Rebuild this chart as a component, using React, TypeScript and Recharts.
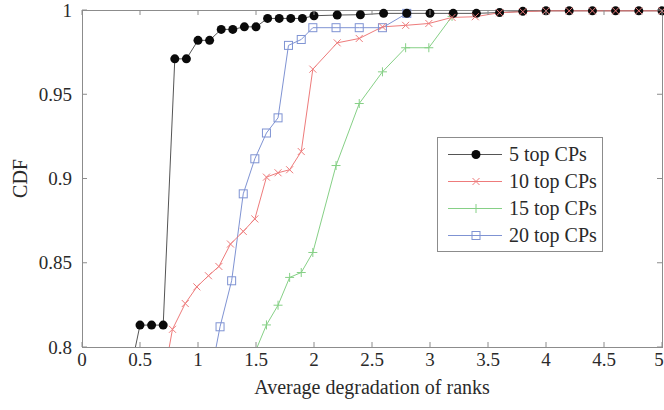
import { LineChart, Line, XAxis, YAxis, ReferenceArea } from "recharts";

const X_TICKS = [0, 0.5, 1, 1.5, 2, 2.5, 3, 3.5, 4, 4.5, 5];
const Y_TICKS = [0.8, 0.85, 0.9, 0.95, 1];

// 5 top CPs
const top5X = [0.5, 0.6, 0.7, 0.8, 0.9, 1.0, 1.1, 1.2, 1.3, 1.4, 1.5, 1.6, 1.7, 1.8, 1.9, 2.0, 2.2, 2.4, 2.6, 2.8, 3.0, 3.2, 3.4, 3.6, 3.8, 4.0, 4.2, 4.4, 4.6, 4.8, 5.0];
const top5Y = [0.813, 0.813, 0.813, 0.971, 0.971, 0.982, 0.982, 0.9885, 0.9885, 0.99, 0.99, 0.995, 0.995, 0.995, 0.995, 0.9966, 0.997, 0.9972, 0.998, 0.998, 0.998, 0.998, 0.998, 0.9985, 0.9992, 0.9995, 0.9995, 0.9995, 0.9995, 0.9995, 0.9995];

// 10 top CPs
const top10X = [0.78, 0.89, 0.99, 1.09, 1.18, 1.28, 1.39, 1.49, 1.59, 1.69, 1.79, 1.89, 1.99, 2.2, 2.39, 2.59, 2.79, 2.99, 3.19, 3.39, 3.6, 3.8, 4.0, 4.2, 4.4, 4.6, 4.8, 5.0];
const top10Y = [0.8105, 0.8258, 0.8357, 0.8423, 0.8478, 0.8611, 0.8686, 0.876, 0.9008, 0.9034, 0.9052, 0.916, 0.9649, 0.9805, 0.9831, 0.99, 0.9909, 0.992, 0.9956, 0.996, 0.9984, 0.999, 0.9995, 0.9995, 0.9995, 0.9995, 0.9995, 0.9995];

// 15 top CPs
const top15X = [1.59, 1.69, 1.79, 1.89, 1.99, 2.19, 2.39, 2.59, 2.79, 2.99, 3.19];
const top15Y = [0.8131, 0.8248, 0.8413, 0.8442, 0.8561, 0.9077, 0.9445, 0.9633, 0.9776, 0.9776, 0.9962];

// 20 top CPs
const top20X = [1.19, 1.29, 1.39, 1.49, 1.59, 1.69, 1.78, 1.89, 1.99, 2.19, 2.39, 2.59, 2.8];
const top20Y = [0.812, 0.8393, 0.8909, 0.9117, 0.927, 0.936, 0.979, 0.9825, 0.9895, 0.9895, 0.9895, 0.9895, 0.998];

// where each curve enters from below the 0.8 axis (clipped)
const tailX = [0.4, 0.7, 1.45, 1.1];
const tailY = [0.78, 0.78, 0.79, 0.78];

const FONT = '"Liberation Serif", "Times New Roman", serif';
const FRAME = "#8c8c8c";
const TEXT = "#2a2a2a";

const W = 664;
const H = 410;
const MARGIN = { top: 10, right: 2, left: 0, bottom: 0 };
const Y_AXIS_W = 82;
const X_AXIS_H = 63;
const TICK_LEN = 5;
const X_TICK_MARGIN = 6;
const Y_TICK_MARGIN = 10;

const toPoints = (xs: number[], ys: number[]) => xs.map((x, i) => ({ x, y: ys[i] }));

type Kind = "circle" | "x" | "plus" | "square";

const SERIES = [
  { name: "5 top CPs", line: "#555555", mark: "#0a0a0a", kind: "circle" as Kind, data: toPoints(top5X, top5Y), tail: 0 },
  { name: "10 top CPs", line: "#ee7b7b", mark: "#ee7b7b", kind: "x" as Kind, data: toPoints(top10X, top10Y), tail: 1 },
  { name: "15 top CPs", line: "#86d086", mark: "#86d086", kind: "plus" as Kind, data: toPoints(top15X, top15Y), tail: 2 },
  { name: "20 top CPs", line: "#7f93d3", mark: "#7f93d3", kind: "square" as Kind, data: toPoints(top20X, top20Y), tail: 3 },
];

// drawing order: green, blue, black, red on top
const DRAW_ORDER = [2, 3, 0, 1];

function Marker({ kind, cx, cy, color }: { kind: Kind; cx: number; cy: number; color: string }) {
  if (kind === "circle") {
    return <circle cx={cx} cy={cy} r={4.5} fill={color} />;
  }
  if (kind === "x") {
    const s = 3.5;
    return (
      <path
        d={`M${cx - s},${cy - s}L${cx + s},${cy + s}M${cx - s},${cy + s}L${cx + s},${cy - s}`}
        stroke={color}
        strokeWidth={1}
        fill="none"
      />
    );
  }
  if (kind === "plus") {
    const s = 4.5;
    return (
      <path
        d={`M${cx - s},${cy}L${cx + s},${cy}M${cx},${cy - s}L${cx},${cy + s}`}
        stroke={color}
        strokeWidth={1}
        fill="none"
      />
    );
  }
  return <rect x={cx - 4} y={cy - 4} width={8} height={8} fill="none" stroke={color} strokeWidth={1} />;
}

function XTick(props: any) {
  const { x, y, payload, index } = props;
  const axisY = y - X_TICK_MARGIN;
  // keep the last label inside the page
  const tx = index === X_TICKS.length - 1 ? Math.min(x, W - 5) : x;
  return (
    <g>
      <line x1={x} y1={axisY} x2={x} y2={axisY - TICK_LEN} stroke={FRAME} />
      <line x1={x} y1={MARGIN.top} x2={x} y2={MARGIN.top + TICK_LEN} stroke={FRAME} />
      <text x={tx} y={y} dy="0.71em" textAnchor="middle" fontFamily={FONT} fontSize={19} fill={TEXT}>
        {payload.value}
      </text>
    </g>
  );
}

function YTick(props: any) {
  const { x, y, payload } = props;
  const axisX = x + Y_TICK_MARGIN;
  const right = W - MARGIN.right;
  return (
    <g>
      <line x1={axisX} y1={y} x2={axisX + TICK_LEN} y2={y} stroke={FRAME} />
      <line x1={right} y1={y} x2={right - TICK_LEN} y2={y} stroke={FRAME} />
      <text x={x} y={y} dy="0.355em" textAnchor="end" fontFamily={FONT} fontSize={19} fill={TEXT}>
        {payload.value}
      </text>
    </g>
  );
}

export default function App() {
  const plotBottom = H - MARGIN.bottom - X_AXIS_H;
  const plotMidX = (Y_AXIS_W + W - MARGIN.right) / 2;
  const plotMidY = (MARGIN.top + plotBottom) / 2;

  return (
    <div style={{ position: "absolute", left: 0, top: 0, width: W, height: H, background: "#fff" }}>
      <LineChart width={W} height={H} margin={MARGIN}>
        <XAxis
          type="number"
          dataKey="x"
          domain={[0, 5]}
          ticks={X_TICKS}
          interval={0}
          height={X_AXIS_H}
          axisLine={false}
          tickLine={false}
          tickSize={0}
          tickMargin={X_TICK_MARGIN}
          tick={<XTick />}
          label={{
            content: () => (
              <text x={plotMidX} y={394} textAnchor="middle" fontFamily={FONT} fontSize={20} fill={TEXT}>
                Average degradation of ranks
              </text>
            ),
          }}
        />
        <YAxis
          yAxisId="main"
          type="number"
          domain={[0.8, 1]}
          ticks={Y_TICKS}
          interval={0}
          width={Y_AXIS_W}
          axisLine={false}
          tickLine={false}
          tickSize={0}
          tickMargin={Y_TICK_MARGIN}
          tick={<YTick />}
          label={{
            content: () => (
              <text
                x={20}
                y={plotMidY}
                textAnchor="middle"
                dominantBaseline="central"
                transform={`rotate(-90 20 ${plotMidY})`}
                fontFamily={FONT}
                fontSize={20}
                fill={TEXT}
              >
                CDF
              </text>
            ),
          }}
        />
        <YAxis yAxisId="tail" type="number" domain={[0.8, 1]} allowDataOverflow hide />

        <ReferenceArea
          yAxisId="main"
          x1={0}
          x2={5}
          y1={0.8}
          y2={1}
          fill="none"
          stroke={FRAME}
          strokeWidth={1}
          shapeRendering="crispEdges"
        />

        {SERIES.map((s) => (
          <Line
            key={`tail-${s.name}`}
            yAxisId="tail"
            data={[{ x: tailX[s.tail], y: tailY[s.tail] }, s.data[0]]}
            dataKey="y"
            stroke={s.line}
            strokeWidth={1}
            dot={false}
            activeDot={false}
            legendType="none"
            isAnimationActive={false}
          />
        ))}

        {DRAW_ORDER.map((i) => {
          const s = SERIES[i];
          return (
            <Line
              key={s.name}
              yAxisId="main"
              name={s.name}
              data={s.data}
              dataKey="y"
              stroke={s.line}
              strokeWidth={1}
              activeDot={false}
              isAnimationActive={false}
              dot={(p: any) => <Marker key={`${s.name}-${p.index}`} kind={s.kind} cx={p.cx} cy={p.cy} color={s.mark} />}
            />
          );
        })}
      </LineChart>

      <div
        style={{
          position: "absolute",
          left: 437,
          top: 137,
          width: 164,
          height: 110,
          border: `1px solid ${FRAME}`,
          background: "#fff",
          paddingTop: 3,
          boxSizing: "content-box",
        }}
      >
        {SERIES.map((s) => (
          <div key={s.name} style={{ display: "flex", alignItems: "center", height: 27 }}>
            <svg width={64} height={27} style={{ display: "block", flex: "none" }}>
              <line x1={10} y1={13.5} x2={64} y2={13.5} stroke={s.line} strokeWidth={1} />
              <Marker kind={s.kind} cx={38} cy={13.5} color={s.mark} />
            </svg>
            <span style={{ marginLeft: 7, fontFamily: FONT, fontSize: 20, color: TEXT, lineHeight: "27px", whiteSpace: "nowrap" }}>
              {s.name}
            </span>
          </div>
        ))}
      </div>
    </div>
  );
}
